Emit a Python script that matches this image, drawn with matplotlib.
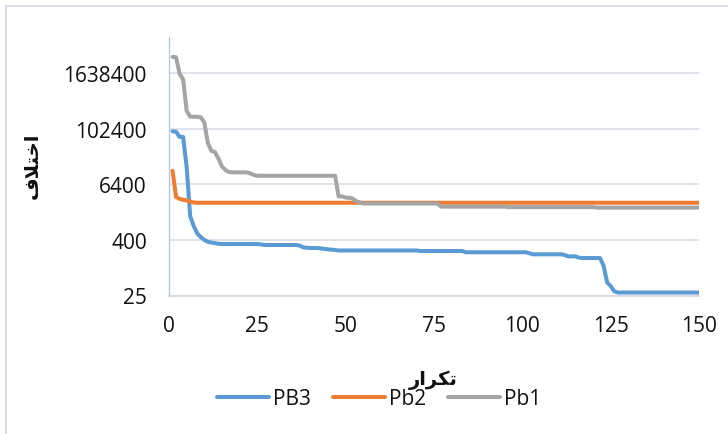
import matplotlib
matplotlib.use("Agg")
import matplotlib.pyplot as plt
from matplotlib.ticker import FixedLocator, NullLocator, FixedFormatter
from matplotlib.lines import Line2D

iterations = list(range(1, 151))

pb3 = [90000, 88000, 68000, 68000, 15000, 1300, 800, 550, 460, 400,
       365, 350, 340, 330, 326, 326, 326, 326, 326, 326,
       326, 326, 326, 326, 326, 320, 310, 310, 310, 310,
       310, 310, 310, 310, 310, 310, 300, 276, 270, 267,
       267, 267, 262, 255, 250, 245, 242, 236, 236, 236,
       236, 236, 236, 236, 236, 236, 236, 236, 236, 236,
       236, 236, 236, 236, 236, 236, 236, 236, 236, 236,
       230, 230, 230, 230, 230, 230, 230, 230, 230, 230,
       230, 230, 230, 216, 216, 216, 216, 216, 216, 216,
       216, 216, 216, 216, 216, 216, 216, 216, 216, 216,
       216, 205, 195, 195, 195, 195, 195, 195, 195, 195,
       195, 188, 176, 176, 176, 165, 162, 162, 162, 162,
       162, 162, 110, 48, 40, 31, 29, 29, 29, 29,
       29, 29, 29, 29, 29, 29, 29, 29, 29, 29,
       29, 29, 29, 29, 29, 29, 29, 29, 29, 29]

pb2 = [12600, 3400, 3100, 2950, 2870, 2700, 2580, 2550, 2550, 2550,
       2550, 2550, 2550, 2550, 2550, 2550, 2550, 2550, 2550, 2550,
       2550, 2550, 2550, 2550, 2550, 2550, 2550, 2550, 2550, 2550,
       2550, 2550, 2550, 2550, 2550, 2550, 2550, 2550, 2550, 2550,
       2550, 2550, 2550, 2550, 2550, 2550, 2550, 2550, 2550, 2550,
       2550, 2550, 2550, 2550, 2550, 2550, 2550, 2550, 2550, 2550,
       2550, 2550, 2550, 2550, 2550, 2550, 2550, 2550, 2550, 2550,
       2550, 2550, 2550, 2550, 2550, 2550, 2550, 2550, 2550, 2550,
       2550, 2550, 2550, 2550, 2550, 2550, 2550, 2550, 2550, 2550,
       2550, 2550, 2550, 2550, 2550, 2550, 2550, 2550, 2550, 2550,
       2550, 2550, 2550, 2550, 2550, 2550, 2550, 2550, 2550, 2550,
       2550, 2550, 2550, 2550, 2550, 2550, 2550, 2550, 2550, 2550,
       2550, 2550, 2550, 2550, 2550, 2550, 2550, 2550, 2550, 2550,
       2550, 2550, 2550, 2550, 2550, 2550, 2550, 2550, 2550, 2550,
       2550, 2550, 2550, 2550, 2550, 2550, 2550, 2550, 2550, 2550]

pb1 = [3700000, 3600000, 1600000, 1200000, 250000, 186000, 186000, 185000, 180000, 140000,
       50000, 34000, 32000, 23000, 15500, 13000, 11800, 11600, 11600, 11600,
       11600, 11600, 11000, 10200, 9800, 9800, 9800, 9800, 9800, 9800,
       9800, 9800, 9800, 9800, 9800, 9800, 9800, 9800, 9800, 9800,
       9800, 9800, 9800, 9800, 9800, 9800, 9800, 3500, 3500, 3300,
       3250, 3150, 2750, 2600, 2450, 2450, 2450, 2450, 2450, 2450,
       2450, 2450, 2450, 2450, 2450, 2450, 2450, 2450, 2450, 2450,
       2450, 2450, 2450, 2450, 2450, 2450, 2100, 2100, 2100, 2100,
       2100, 2100, 2100, 2100, 2100, 2100, 2100, 2100, 2100, 2100,
       2100, 2100, 2100, 2100, 2100, 2050, 2050, 2050, 2050, 2050,
       2050, 2050, 2050, 2050, 2050, 2050, 2050, 2050, 2050, 2050,
       2050, 2050, 2050, 2050, 2050, 2050, 2050, 2050, 2050, 2050,
       2000, 2000, 2000, 2000, 2000, 2000, 2000, 2000, 2000, 2000,
       2000, 2000, 2000, 2000, 2000, 2000, 2000, 2000, 2000, 2000,
       2000, 2000, 2000, 2000, 2000, 2000, 2000, 2000, 2000, 2000]

series_names = ["PB3", "Pb2", "Pb1"]
series_colors = ["#5B9BD5", "#ED7D31", "#A5A5A5"]

y_ticks = [25, 400, 6400, 102400, 1638400]
y_tick_labels = ["25", "400", "6400", "102400", "1638400"]
x_ticks = [0, 25, 50, 75, 100, 125, 150]

# Persian titles (pre-shaped presentation forms in visual order)
x_title = "\uFEAD\uFE8D\uFEAE\uFB91\uFE97"   # تکرار
y_title = "\uFED1\uFEFC\uFE98\uFEA7\uFE8D"   # اختلاف

W, H = 728, 435
fig = plt.figure(figsize=(W / 100, H / 100), dpi=100)
plt.rcParams['font.family'] = ['Open Sans', 'DejaVu Sans']

ax_l, ax_r, ax_b, ax_t = 169, 699, 296.5, 38
ax = fig.add_axes([ax_l / W, 1 - ax_b / H, (ax_r - ax_l) / W, (ax_b - ax_t) / H])

for vals, name, col in zip([pb3, pb2, pb1], series_names, series_colors):
    ax.plot(iterations, vals, color=col, lw=2.9, label=name,
            solid_capstyle='round', solid_joinstyle='round')

ax.set_yscale('log', base=16)
ax.set_ylim(25, 25 * 16 ** ((ax_b - ax_t) / 55.6))
ax.set_xlim(0, 150)
ax.yaxis.set_major_locator(FixedLocator(y_ticks))
ax.yaxis.set_major_formatter(FixedFormatter(y_tick_labels))
ax.yaxis.set_minor_locator(NullLocator())
ax.set_xticks(x_ticks)
ax.set_xticklabels([str(v) for v in x_ticks])

ax.grid(axis='y', color='#DCE1E9', lw=1.3)
ax.set_axisbelow(True)
for s in ['top', 'right']:
    ax.spines[s].set_visible(False)
ax.spines['left'].set_color('#B4C4DE')
ax.spines['left'].set_linewidth(0.9)
ax.spines['bottom'].set_color('#D3D9E3')
ax.spines['bottom'].set_linewidth(1.3)
ax.tick_params(axis='both', length=0, labelsize=15, labelcolor='#111111')
ax.tick_params(axis='y', pad=16)
ax.tick_params(axis='x', pad=14)

# axis titles
fig.text(433 / W, 1 - 380 / H, x_title, ha='center', va='center',
         fontsize=14, fontweight='bold', family=['DejaVu Sans'], color='#111111')
fig.text(32 / W, 1 - 166 / H, y_title, ha='center', va='center', rotation=90,
         fontsize=14, fontweight='bold', family=['DejaVu Sans'], color='#111111')

# legend
handles = [Line2D([0], [0], color=c, lw=2.9, solid_capstyle='round') for c in series_colors]
fig.legend(handles, series_names, loc='center', bbox_to_anchor=(379 / W, 1 - 400 / H),
           ncol=3, frameon=False, fontsize=15, handlelength=2.5, handletextpad=0.2,
           columnspacing=1.05, labelcolor='#111111')

# chart area border (top and left visible)
fig.add_artist(Line2D([6 / W, 6 / W], [0, 1 - 7 / H], color='#D9DDE3', lw=1.4,
                      transform=fig.transFigure))
fig.add_artist(Line2D([6 / W, 1], [1 - 7 / H, 1 - 7 / H], color='#D9DDE3', lw=1.4,
                      transform=fig.transFigure))

fig.savefig('out.png', dpi=100)
